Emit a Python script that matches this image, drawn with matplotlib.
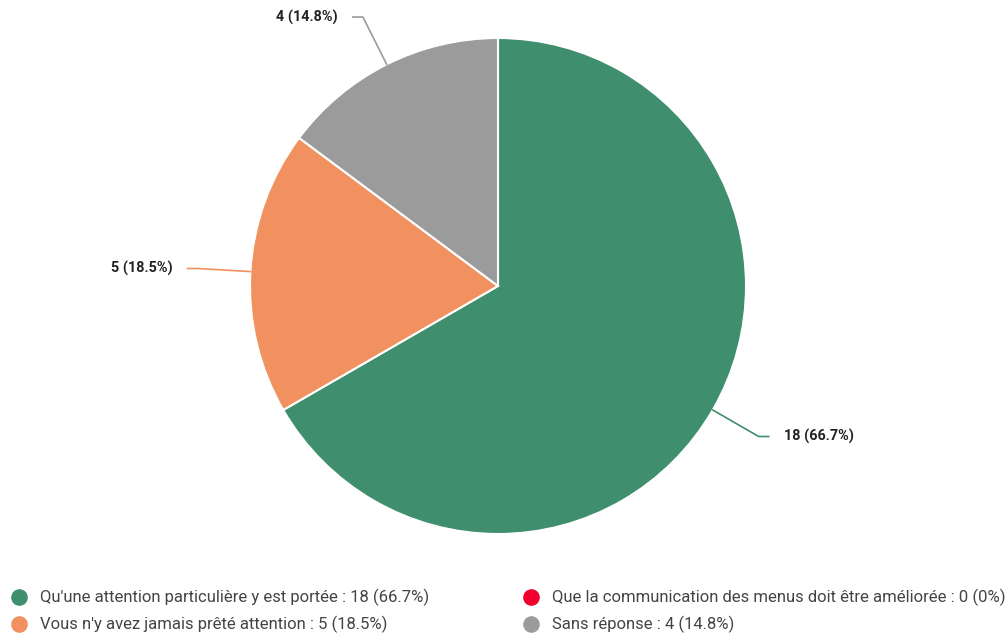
import numpy as np
import matplotlib.pyplot as plt

plt.rcParams['font.family'] = ['Roboto', 'DejaVu Sans']

labels = ["Qu'une attention particulière y est portée",
          "Que la communication des menus doit être améliorée",
          "Vous n'y avez jamais prêté attention",
          "Sans réponse"]
counts = [18, 0, 5, 4]
colors = ['#3f8e6d', '#f0002d', '#f0915f', '#9b9b9b']

W, H = 1007, 633
cx, cy, r = 498, H - 286, 248

fig = plt.figure(figsize=(W / 100, H / 100), dpi=100)
ax = fig.add_axes([0, 0, 1, 1])

total = sum(counts)
pct = [100 * c / total for c in counts]

# pie only for non-zero slices, clockwise from top
nz = [i for i, c in enumerate(counts) if c > 0]
wedges, _ = ax.pie([counts[i] for i in nz], colors=[colors[i] for i in nz],
                   startangle=90, counterclock=False, center=(cx, cy), radius=r,
                   wedgeprops=dict(edgecolor='white', linewidth=1.5))
ax.set_xlim(0, W)
ax.set_ylim(0, H)
ax.set_aspect('equal')
ax.axis('off')

for w, i in zip(wedges, nz):
    ang = np.deg2rad((w.theta1 + w.theta2) / 2)
    ex, ey = cx + r * np.cos(ang), cy + r * np.sin(ang)
    bx, by = cx + (r + 53) * np.cos(ang), cy + (r + 53) * np.sin(ang)
    side = 1 if np.cos(ang) > 0 else -1
    hx = bx + side * 10
    ax.plot([ex, bx, hx], [ey, by, by], color=colors[i], lw=1.2)
    ax.text(hx + side * 15, by, f"{counts[i]} ({pct[i]:.1f}%)",
            ha='left' if side > 0 else 'right', va='center',
            fontsize=10.4, fontweight='bold', color='#222222')

# legend in two columns, filled row by row
for k in range(len(labels)):
    row, col = k // 2, k % 2
    x0 = 19 + col * 512
    y0 = H - 597 - row * 27
    ax.scatter([x0], [y0], s=120, color=colors[k], clip_on=False)
    p = f"{pct[k]:.1f}%" if counts[k] else "0%"
    ax.text(x0 + 21, y0, f"{labels[k]} : {counts[k]} ({p})",
            ha='left', va='center', fontsize=12, color='#444444')

fig.savefig('out.png', dpi=100)
